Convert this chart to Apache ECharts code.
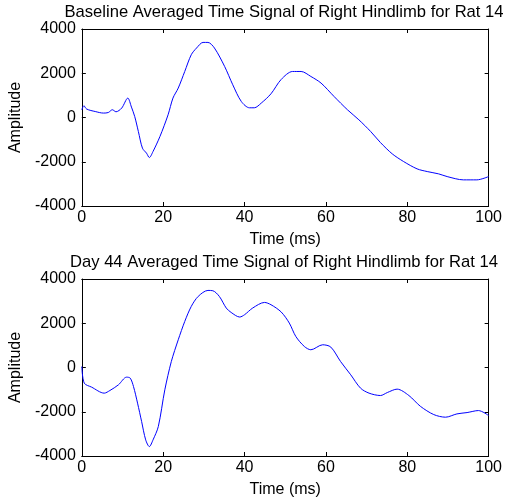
<!DOCTYPE html>
<html><head><meta charset="utf-8">
<script src="https://cdn.jsdelivr.net/npm/echarts@6/dist/echarts.min.js"></script>
<style>html,body{margin:0;padding:0;background:#fff}#c{width:505px;height:500px}</style>
</head><body><div id="c"></div>
<script>
const titles = ["Baseline Averaged Time Signal of Right Hindlimb for Rat 14", "Day 44 Averaged Time Signal of Right Hindlimb for Rat 14"];
const xTicks = [0, 20, 40, 60, 80, 100];
const yTicks = [-4000, -2000, 0, 2000, 4000];
const baselineTime = [0, 0.5, 1.2, 3.3, 5.3, 6.5, 7.5, 8.4, 9.8, 11.3, 12.2, 13.0, 13.9, 14.9, 15.9, 16.6, 17.5, 19.2, 21.2, 22.4, 23.7, 25.3, 26.9, 28.2, 29.8, 31.0, 32.6, 35.1, 37.1, 39.2, 41.2, 42.4, 44.1, 46.5, 49.0, 51.8, 53.9, 56.3, 58.8, 62.0, 65.3, 68.1, 71.0, 73.4, 76.3, 79.1, 82.4, 84.9, 87.7, 89.8, 93.8, 97.1, 100];
const baselineAmp = [350, 530, 380, 270, 200, 225, 350, 258, 425, 877, 470, 45, -633, -1385, -1611, -1810, -1538, -860, 122, 877, 1330, 2080, 2837, 3140, 3394, 3394, 3140, 2308, 1480, 724, 439, 439, 650, 1072, 1720, 2080, 2080, 1855, 1556, 950, 348, -104, -633, -1131, -1643, -1991, -2321, -2443, -2548, -2670, -2819, -2819, -2670];
const day44Time = [0, 0.6, 2.4, 5.5, 6.9, 9.0, 11.0, 11.9, 12.7, 13.7, 14.7, 15.7, 16.6, 17.5, 18.8, 20.4, 22.0, 23.7, 25.3, 26.9, 28.6, 31.0, 32.2, 33.8, 35.5, 36.7, 38.8, 40.0, 42.0, 44.9, 46.5, 49.0, 51.0, 52.6, 54.7, 56.3, 59.2, 61.2, 63.6, 66.1, 68.5, 70.6, 73.4, 75.1, 77.5, 80.4, 83.2, 86.5, 89.4, 92.2, 94.7, 97.5, 100];
const day44Amp = [45, -706, -887, -1159, -1040, -783, -436, -481, -860, -1611, -2444, -3272, -3575, -3272, -2670, -1009, 271, 1253, 2081, 2760, 3213, 3484, 3470, 3213, 2688, 2489, 2281, 2385, 2688, 2941, 2837, 2510, 2009, 1403, 950, 801, 1027, 923, 271, -330, -932, -1159, -1267, -1131, -978, -1267, -1751, -2127, -2246, -2097, -2037, -1946, -2172];

const font = "Liberation Sans, Arial, sans-serif";
const fs = 16;
const gridTops = [29, 279];
const chart = echarts.init(document.getElementById('c'));
const grids = [], xAxes = [], yAxes = [], series = [], graphics = [];
const datasets = [[baselineTime, baselineAmp], [day44Time, day44Amp]];
datasets.forEach((d, i) => {
  grids.push({left: 80, width: 409, top: gridTops[i], height: 177, show: false});
  graphics.push({type: 'text', x: 284, y: gridTops[i] - 17,
    style: {text: titles[i], font: 'normal 16.6px ' + font, fill: '#000', align: 'center', verticalAlign: 'middle'}});
  const tickStyle = {show: true, inside: true, length: 4, lineStyle: {color: '#000', width: 1}};
  const lineStyle = {show: true, onZero: false, lineStyle: {color: '#000', width: 1}};
  xAxes.push({type: 'value', gridIndex: i, min: xTicks[0], max: xTicks[xTicks.length - 1], interval: 20,
    position: 'bottom', axisLine: lineStyle, axisTick: tickStyle, splitLine: {show: false},
    axisLabel: {fontFamily: font, fontSize: fs, color: '#000', margin: 4, formatter: v => String(v)},
    name: 'Time (ms)', nameLocation: 'middle', nameGap: 26,
    nameTextStyle: {fontFamily: font, fontSize: fs, color: '#000'}});
  xAxes.push({type: 'value', gridIndex: i, min: 0, max: 100, interval: 20, position: 'top',
    axisLine: lineStyle, axisTick: tickStyle, axisLabel: {show: false}, splitLine: {show: false}});
  yAxes.push({type: 'value', gridIndex: i, min: yTicks[0], max: yTicks[yTicks.length - 1], interval: 2000,
    position: 'left', axisLine: lineStyle, axisTick: tickStyle, splitLine: {show: false},
    axisLabel: {fontFamily: font, fontSize: fs, color: '#000', margin: 6, formatter: v => String(v)},
    name: 'Amplitude', nameLocation: 'middle', nameGap: 55, nameRotate: 90,
    nameTextStyle: {fontFamily: font, fontSize: fs, color: '#000'}});
  yAxes.push({type: 'value', gridIndex: i, min: -4000, max: 4000, interval: 2000, position: 'right',
    axisLine: lineStyle, axisTick: tickStyle, axisLabel: {show: false}, splitLine: {show: false}});
  series.push({type: 'line', xAxisIndex: i * 2, yAxisIndex: i * 2, showSymbol: false, smooth: 0.3,
    lineStyle: {color: '#0000ff', width: 1}, itemStyle: {color: '#0000ff'},
    data: d[0].map((t, k) => [t, d[1][k]]), animation: false});
});
chart.setOption({backgroundColor: '#fff', animation: false, graphic: graphics, grid: grids,
  xAxis: xAxes, yAxis: yAxes, series: series});
</script></body></html>
